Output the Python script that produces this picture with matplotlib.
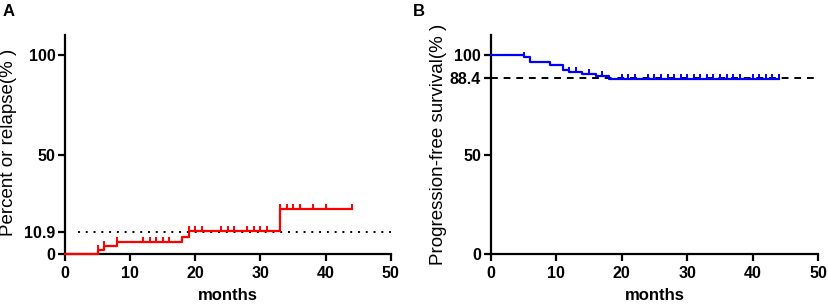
import numpy as np
import matplotlib
matplotlib.use("Agg")
import matplotlib.pyplot as plt

plt.rcParams['font.family'] = ['Liberation Sans', 'DejaVu Sans']

# Panel A: cumulative relapse (step curve)
a_times = [0, 5, 6, 8, 18, 19, 33, 44]
a_values = [0, 2.0, 3.8, 5.8, 8.4, 11.6, 22.4, 22.4]
a_censor = [5, 6, 8, 12, 13, 14, 15, 16, 19, 20, 21, 24, 25, 26, 28, 29, 30, 31,
            33, 34, 35, 36, 38, 40, 44]
a_ref = 10.9
a_yticks = [0, 10.9, 50, 100]
a_yticklabels = ['0', '10.9', '50', '100']

# Panel B: progression-free survival
b_times = [0, 5, 6, 9, 11, 12, 14, 16, 18, 44]
b_values = [100, 99.0, 96.8, 95.0, 92.8, 91.6, 90.5, 89.5, 87.9, 87.9]
b_censor = [5, 12, 13, 15, 17, 20, 21, 22, 24, 25, 26, 27, 28, 29, 30, 31, 32,
            33, 34, 35, 36, 37, 38, 40, 41, 42, 43, 44]
b_ref = 88.4
b_yticks = [0, 50, 88.4, 100]
b_yticklabels = ['0', '50', '88.4', '100']

xticks = [0, 10, 20, 30, 40, 50]


def step_value(times, values, t):
    idx = np.searchsorted(times, t, side='right') - 1
    return values[idx]


def style_axis(ax, yticks, yticklabels, ylabel):
    ax.set_xlim(0, 50)
    ax.set_ylim(0, 110)
    ax.spines['top'].set_visible(False)
    ax.spines['right'].set_visible(False)
    for s in ['left', 'bottom']:
        ax.spines[s].set_linewidth(1.6)
    ax.set_xticks(xticks)
    ax.set_yticks(yticks)
    ax.set_yticklabels(yticklabels)
    ax.tick_params(axis='both', direction='out', length=5, width=1.6,
                   labelsize=11.5, pad=2)
    ax.tick_params(axis='x', pad=4)
    for lab in ax.get_xticklabels() + ax.get_yticklabels():
        lab.set_fontweight('bold')
    ax.set_xlabel('months', fontsize=12, fontweight='bold')
    ax.xaxis.set_label_coords(0.5, -0.155)
    ax.set_ylabel(ylabel, fontsize=13.5)


fig = plt.figure(figsize=(8.29, 3.06), dpi=100)

# ---- A ----
axA = fig.add_axes([0.0784, 0.170, 0.393, 0.714])
axA.plot([2, 50], [a_ref, a_ref], color='black', linestyle=(0, (1, 3)),
         linewidth=1.4, clip_on=False)
axA.step(a_times, a_values, where='post', color='#ff0000', linewidth=1.6,
         clip_on=False, zorder=3)
a_cy = [step_value(a_times, a_values, t) for t in a_censor]
axA.plot(a_censor, a_cy, linestyle='none', marker=2, markersize=3.5,
         markeredgewidth=1.4, color='#ff0000', clip_on=False, zorder=3)
style_axis(axA, a_yticks, a_yticklabels, 'Percent or relapse(% )')
axA.yaxis.set_label_coords(-0.147, 0.51)

# ---- B ----
axB = fig.add_axes([0.592, 0.170, 0.395, 0.714])
axB.plot([0, 50], [b_ref, b_ref], color='black', linestyle=(0, (3.5, 3)),
         linewidth=1.4, clip_on=False)
axB.step(b_times, b_values, where='post', color='#0000ff', linewidth=1.6,
         clip_on=False, zorder=3)
b_cy = [step_value(b_times, b_values, t) for t in b_censor]
axB.plot(b_censor, b_cy, linestyle='none', marker=2, markersize=3.5,
         markeredgewidth=1.4, color='#0000ff', clip_on=False, zorder=3)
style_axis(axB, b_yticks, b_yticklabels, 'Progression-free survival(% )')
axB.yaxis.set_label_coords(-0.134, 0.5)

fig.text(3 / 829, 1 - 16 / 306, 'A', fontsize=12, fontweight='bold')
fig.text(413 / 829, 1 - 16 / 306, 'B', fontsize=12, fontweight='bold')

fig.savefig('out.png', dpi=100)
